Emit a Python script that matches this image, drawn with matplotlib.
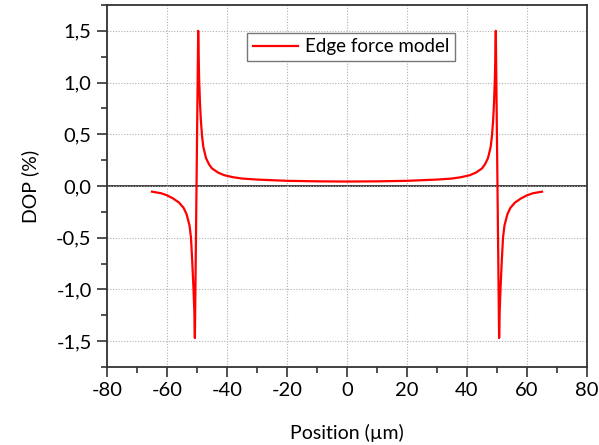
import matplotlib.pyplot as plt
from matplotlib.ticker import MultipleLocator, FuncFormatter

# values
position = [-65, -62, -60, -58, -56, -54.5, -53.5, -52.5, -52, -51.6, -51.2, -50.9, -50.7,
            -49.6, -49.3, -49, -48.7, -48.3, -47.9, -47, -46, -45, -43, -41, -38, -35, -30,
            -25, -20, -10, 0, 10, 20, 25, 30, 35, 38, 41, 43, 45, 46, 47, 47.9, 48.3, 48.7,
            49, 49.3, 49.6, 50.7, 50.9, 51.2, 51.6, 52, 52.5, 53.5, 54.5, 56, 58, 60, 62, 65]
dop = [-0.055, -0.07, -0.09, -0.12, -0.16, -0.21, -0.27, -0.38, -0.50, -0.72, -0.97, -1.2, -1.47,
       1.5, 1.05, 0.8, 0.63, 0.48, 0.38, 0.27, 0.21, 0.17, 0.13, 0.105, 0.085, 0.072, 0.062,
       0.056, 0.05, 0.045, 0.043, 0.045, 0.05, 0.056, 0.062, 0.072, 0.085, 0.105, 0.13, 0.17,
       0.21, 0.27, 0.38, 0.48, 0.63, 0.8, 1.05, 1.5, -1.47, -1.2, -0.97, -0.72, -0.50, -0.38,
       -0.27, -0.21, -0.16, -0.12, -0.09, -0.07, -0.055]
label = 'Edge force model'

plt.rcParams['font.family'] = ['Lato', 'DejaVu Sans']
fig = plt.figure(figsize=(5.99, 4.45), dpi=100)
ax = fig.add_axes([0.1786, 0.1753, 0.8014, 0.8135])

ax.axhline(0, color='#333333', lw=1.3, zorder=1)
ax.plot(position, dop, color='#ff0000', lw=1.6, label=label, zorder=3)

ax.set_xlim(-80, 80)
ax.set_ylim(-1.75, 1.75)
ax.xaxis.set_major_locator(MultipleLocator(20))
ax.xaxis.set_minor_locator(MultipleLocator(10))
ax.yaxis.set_major_locator(MultipleLocator(0.5))
ax.yaxis.set_minor_locator(MultipleLocator(0.25))
ax.xaxis.set_major_formatter(FuncFormatter(lambda v, p: f'{v:.0f}'))
ax.yaxis.set_major_formatter(FuncFormatter(lambda v, p: f'{v:.1f}'.replace('.', ',')))

ax.grid(True, which='major', color='#b0b0b0', linestyle=(0, (1, 1.5)), lw=0.8)
ax.tick_params(which='major', direction='out', length=7, width=1.2, color='#333333',
               labelsize=14.5, pad=4)
ax.tick_params(which='minor', direction='out', length=4, width=1.2, color='#333333')
for s in ax.spines.values():
    s.set_color('#333333')
    s.set_linewidth(1.3)

ax.set_xlabel('Position (µm)', fontsize=14, labelpad=18)
ax.set_ylabel('DOP (%)', fontsize=14, labelpad=12)

leg = ax.legend(loc='upper left', bbox_to_anchor=(0.292, 0.923), borderaxespad=0,
                fontsize=13.5, handlelength=2.4, fancybox=False, framealpha=1,
                edgecolor='#777777', borderpad=0.3, handletextpad=0.4)
leg.get_frame().set_linewidth(1.0)

plt.savefig('out.png', dpi=100)
